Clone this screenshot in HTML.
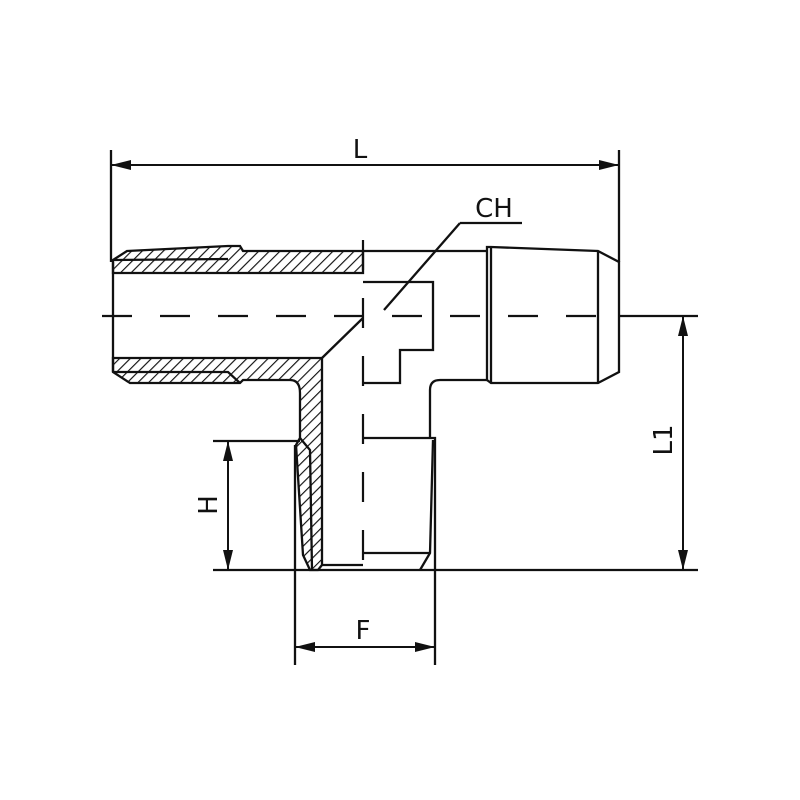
<!DOCTYPE html>
<html><head><style>body{margin:0;background:#fff}svg{display:block}</style></head><body>
<svg width="800" height="800" viewBox="0 0 800 800" xmlns="http://www.w3.org/2000/svg">
<defs>
<pattern id="h" patternUnits="userSpaceOnUse" width="7.5" height="7.5" patternTransform="rotate(45)">
<line x1="0" y1="0" x2="0" y2="7.5" stroke="#111" stroke-width="2.3"/>
</pattern>
<marker id="a" viewBox="0 0 20 10" refX="20" refY="5" markerWidth="20" markerHeight="10" markerUnits="userSpaceOnUse" orient="auto-start-reverse">
<path d="M0,0 L20,5 L0,10 Z" fill="#111"/>
</marker>
</defs>
<g fill="none" stroke="#111" stroke-width="2.3">
<path d="M113,260 L127,251 L228,246 L240,246 L243,251 L363,251 L363,273 L113,273 Z" fill="url(#h)"/>
<path d="M113,260 L228,259" />
<path d="M113,358 L322,358 L322,565 L318,570 L310,570 L303,555 L296,445 L300,438 L300,393 Q300,380 290,380 L243,380 L240,383 L130,383 L113,372 Z" fill="url(#h)"/>
<path d="M113,372 L228,372 L240,383"/>
<path d="M300,438 L310,450 L312,570"/>
<path d="M113,262 L113,372"/>
<path d="M111,150 L111,262"/>
<path d="M619,150 L619,262"/>
<path d="M363,251 L487,251"/>
<path d="M322,358 L363,318"/>
<path d="M363,282 L433,282 L433,350 L400,350 L400,383 L363,383"/>
<path d="M430,438 L430,390 Q430,380 440,380 L487,380"/>
<path d="M487,247 L491,247 L598,251 L619,262 L619,372 L598,383 L491,383 L487,380 Z"/>
<path d="M491,247 L491,383 M598,251 L598,383"/>
<path d="M363,438 L435,438 L435,570"/>
<path d="M433,440 L430,553 L420,570"/>
<path d="M363,553 L430,553"/>
<path d="M322,565 L363,565"/>
<path d="M213,570 L698,570"/>
<path d="M213,441 L300,441"/>
<path d="M295,445 L295,665 M435,570 L435,665"/>
<path d="M619,316 L698,316"/>
<path d="M460,223 L522,223 M460,223 L384,310"/>
</g>
<g stroke="#111" stroke-width="2.2" fill="none">
<path d="M100,316 L619,316" stroke-dasharray="30,28" stroke-dashoffset="-2"/>
<path d="M363,240 L363,565" stroke-dasharray="30,28"/>
</g>
<g stroke="#111" stroke-width="2">
<line x1="111" y1="165" x2="619" y2="165" marker-start="url(#a)" marker-end="url(#a)"/>
<line x1="228" y1="441" x2="228" y2="570" marker-start="url(#a)" marker-end="url(#a)"/>
<line x1="683" y1="316" x2="683" y2="570" marker-start="url(#a)" marker-end="url(#a)"/>
<line x1="295" y1="647" x2="435" y2="647" marker-start="url(#a)" marker-end="url(#a)"/>
</g>
<g font-family="DejaVu Sans, Liberation Sans, sans-serif" font-size="26" fill="#111">
<text x="360" y="158" text-anchor="middle">L</text>
<text x="494" y="217" text-anchor="middle">CH</text>
<text x="363" y="639" text-anchor="middle">F</text>
<text transform="translate(217,505) rotate(-90)" text-anchor="middle">H</text>
<text transform="translate(672,440) rotate(-90)" text-anchor="middle">L1</text>
</g>
</svg>
</body></html>
